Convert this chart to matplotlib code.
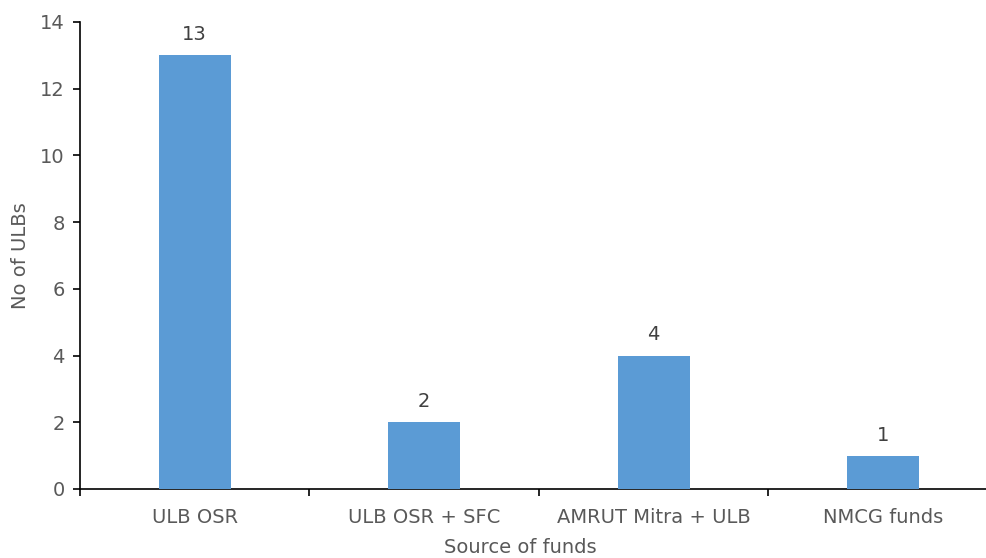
import matplotlib.pyplot as plt
import numpy as np

CATEGORIES = ["ULB OSR", "ULB OSR + SFC", "AMRUT Mitra + ULB", "NMCG funds"]
COUNTS = [13, 2, 4, 1]
Y_TICKS = [0, 2, 4, 6, 8, 10, 12, 14]

BAR_COLOR = "#5b9bd5"
TEXT_COLOR = "#595959"

plt.rcParams["font.family"] = ["DejaVu Sans"]

fig = plt.figure(figsize=(9.86, 5.58), dpi=100)
ax = fig.add_axes([0.0811, 0.1237, 0.931, 0.837])

x = np.arange(len(CATEGORIES))
bars = ax.bar(x, COUNTS, width=0.315, color=BAR_COLOR, zorder=3)
for rect, val in zip(bars, COUNTS):
    ax.annotate(str(val), (rect.get_x() + rect.get_width() / 2, val),
                xytext=(0, 8), textcoords="offset points",
                ha="center", va="bottom", fontsize=14, color="#404040")

ax.set_xlim(-0.5, len(CATEGORIES) - 0.5)
ax.set_ylim(0, 14)
ax.set_yticks(Y_TICKS)
ax.tick_params(axis="y", labelsize=14, labelcolor=TEXT_COLOR, direction="out",
               length=5, width=1.2, pad=6)

# category labels centred, tick marks on the boundaries
ax.set_xticks(x)
ax.set_xticklabels(CATEGORIES)
ax.set_xticks(np.arange(len(CATEGORIES) + 1) - 0.5, minor=True)
ax.tick_params(axis="x", which="major", length=0, labelsize=14,
               labelcolor=TEXT_COLOR, pad=14)
ax.tick_params(axis="x", which="minor", length=5, width=1.2, direction="out")

for side in ["top", "right"]:
    ax.spines[side].set_visible(False)
ax.spines["left"].set_linewidth(1.2)
ax.spines["bottom"].set_linewidth(1.2)
ax.spines["left"].set_color("black")
ax.spines["bottom"].set_color("black")

ax.set_ylabel("No of ULBs", fontsize=14, color=TEXT_COLOR)
ax.yaxis.set_label_coords(-0.054, 0.5)
ax.set_xlabel("Source of funds", fontsize=14, color=TEXT_COLOR)
ax.xaxis.set_label_coords(0.48, -0.105)

plt.savefig("out.png", dpi=100)
